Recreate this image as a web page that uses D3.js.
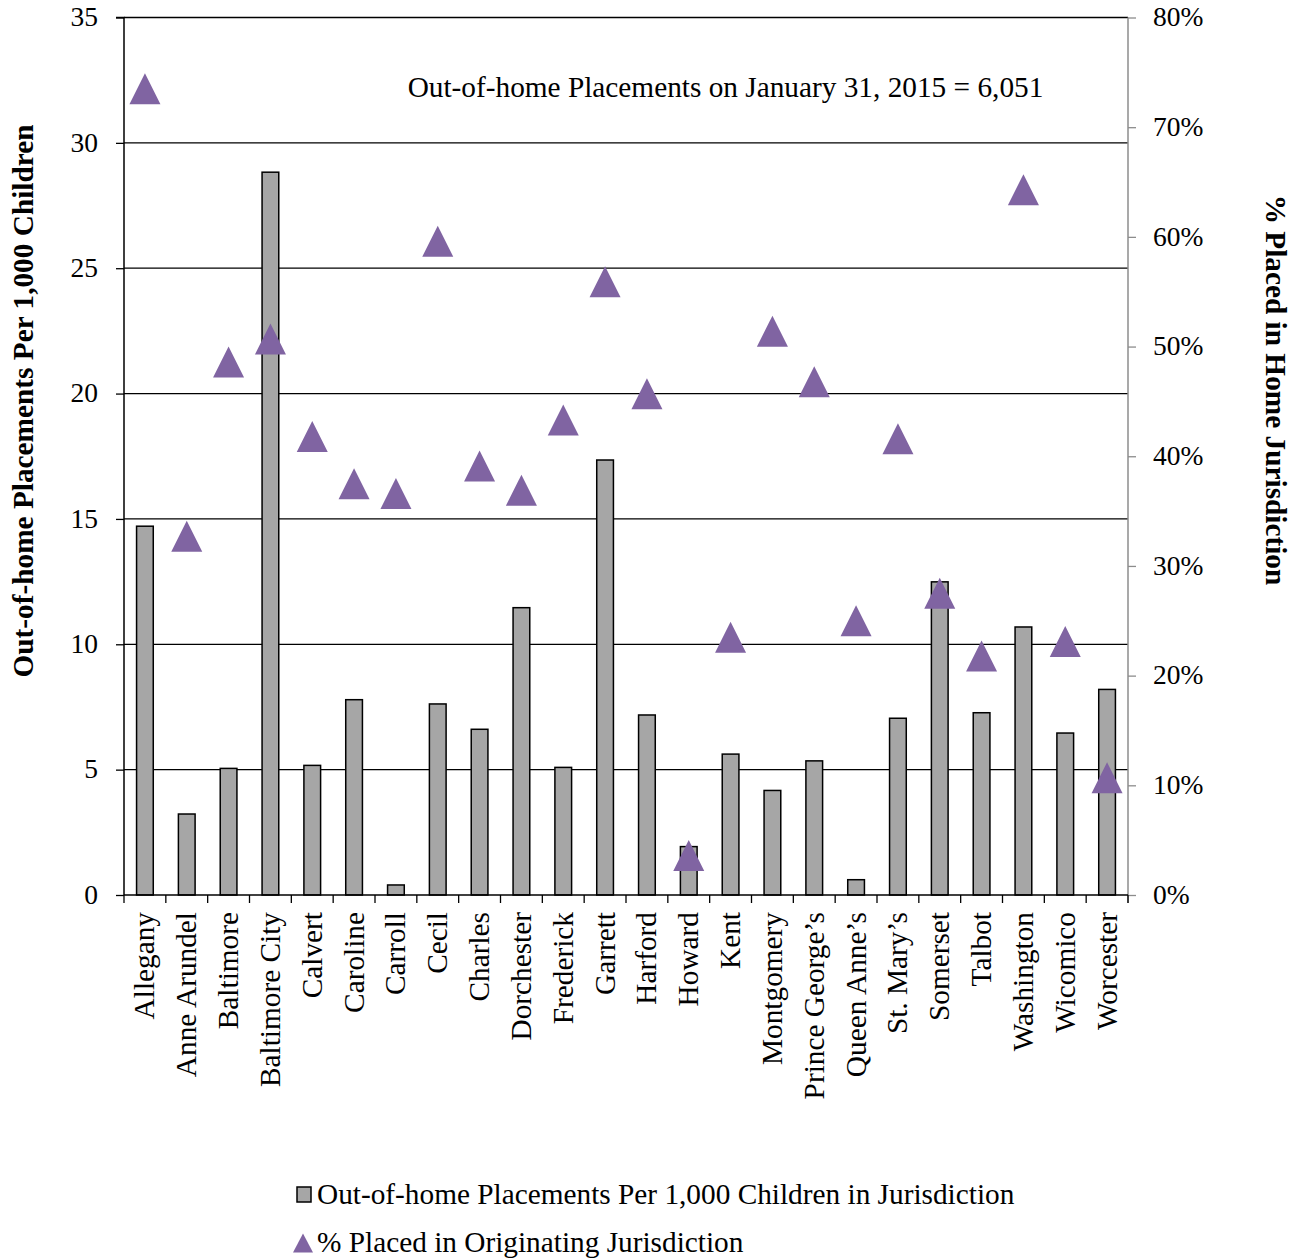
<!DOCTYPE html>
<html>
<head>
<meta charset="utf-8">
<script src="https://cdn.jsdelivr.net/npm/d3@7"></script>
<style>
  html, body { margin: 0; padding: 0; background: #fff; }
  text { font-family: "Liberation Serif", "Times New Roman", serif; fill: #000; }
</style>
</head>
<body>
<svg id="chart" width="1302" height="1260"></svg>
<script>
const categories = ["Allegany", "Anne Arundel", "Baltimore", "Baltimore City", "Calvert", "Caroline",
  "Carroll", "Cecil", "Charles", "Dorchester", "Frederick", "Garrett", "Harford", "Howard", "Kent",
  "Montgomery", "Prince George\u2019s", "Queen Anne\u2019s", "St. Mary\u2019s", "Somerset", "Talbot",
  "Washington", "Wicomico", "Worcester"];
const placementsPer1000 = [14.71, 3.23, 5.05, 28.83, 5.17, 7.79, 0.40, 7.62, 6.61, 11.46, 5.09, 17.35,
  7.18, 1.93, 5.62, 4.17, 5.35, 0.61, 7.05, 12.49, 7.27, 10.69, 6.46, 8.20];
const pctInHome = [73.5, 32.7, 48.6, 50.7, 41.8, 37.5, 36.6, 59.6, 39.1, 36.9, 43.3, 55.9, 45.7, 3.6,
  23.5, 51.4, 46.8, 25.0, 41.6, 27.5, 21.8, 64.3, 23.1, 10.7];
const leftTicks = [0, 5, 10, 15, 20, 25, 30, 35];
const rightTicks = [0, 10, 20, 30, 40, 50, 60, 70, 80];
const seriesNames = ["Out-of-home Placements Per 1,000 Children in Jurisdiction", "% Placed in Originating Jurisdiction"];
const annotation = "Out-of-home Placements on January 31, 2015 = 6,051";
const leftTitle = "Out-of-home Placements Per 1,000 Children";
const rightTitle = "% Placed in Home Jurisdiction";

const svg = d3.select("#chart");
const L = 124, R = 1128, T = 17.5, B = 895;
const barColor = "#a6a6a6", triColor = "#8064a2";
const fs = 29.3, tfs = 27.5;

const xOuter = d3.scaleBand().domain(categories).range([L, R]);
const y = d3.scaleLinear().domain([0, 35]).range([B, T]);
const y2 = d3.scaleLinear().domain([0, 80]).range([B, T]);

// gridlines
svg.append("g").selectAll("line").data(leftTicks.filter(d => d > 0)).join("line")
  .attr("x1", L).attr("x2", R).attr("y1", d => y(d)).attr("y2", d => y(d))
  .attr("stroke", "#000").attr("stroke-width", 1.3);

// bars
const bw = 16.7;
svg.append("g").selectAll("rect").data(categories).join("rect")
  .attr("x", d => xOuter(d) + xOuter.bandwidth() / 2 - bw / 2)
  .attr("width", bw)
  .attr("y", (d, i) => y(placementsPer1000[i]))
  .attr("height", (d, i) => B - y(placementsPer1000[i]))
  .attr("fill", barColor).attr("stroke", "#000").attr("stroke-width", 1.5);

// left axis
const gl = svg.append("g").attr("transform", `translate(${L},0)`)
  .call(d3.axisLeft(y).tickValues(leftTicks).tickSize(8).tickPadding(18).tickFormat(d3.format("d")));
gl.select(".domain").attr("stroke", "#000").attr("stroke-width", 1.5).attr("d", `M-8,${T}H0V${B}`);
gl.selectAll(".tick line").attr("stroke", "#000").attr("stroke-width", 1.3);
gl.selectAll(".tick text").attr("font-size", tfs).attr("font-family", "Liberation Serif").attr("fill", "#000").attr("dy", "0.3em");

// right axis
const gr = svg.append("g").attr("transform", `translate(${R},0)`)
  .call(d3.axisRight(y2).tickValues(rightTicks).tickSize(8).tickPadding(17).tickFormat(d => d + "%"));
gr.select(".domain").attr("stroke", "#8c8c8c").attr("stroke-width", 1.5).attr("d", `M0,${T}V${B + 8}`);
gr.selectAll(".tick line").attr("stroke", "#8c8c8c").attr("stroke-width", 1.3);
gr.selectAll(".tick text").attr("font-size", tfs).attr("font-family", "Liberation Serif").attr("fill", "#000").attr("dy", "0.3em");

// bottom axis baseline and boundary ticks
const gb = svg.append("g");
gb.append("line").attr("x1", L).attr("x2", R).attr("y1", B).attr("y2", B).attr("stroke", "#000").attr("stroke-width", 1.5);
gb.selectAll("line.tk").data(categories.concat(["_end"])).join("line").attr("class", "tk")
  .attr("x1", (d, i) => i < categories.length ? xOuter(d) : R)
  .attr("x2", (d, i) => i < categories.length ? xOuter(d) : R)
  .attr("y1", B).attr("y2", B + 8).attr("stroke", "#000").attr("stroke-width", 1.3);
gb.selectAll("text").data(categories).join("text")
  .attr("transform", d => `translate(${xOuter(d) + xOuter.bandwidth() / 2 + 9.5},912) rotate(-90)`)
  .attr("text-anchor", "end").attr("font-size", fs).text(d => d);

// triangles
function tri(cx, cy, w, h) {
  const p = d3.path();
  p.moveTo(cx, cy - h / 2); p.lineTo(cx + w / 2, cy + h / 2); p.lineTo(cx - w / 2, cy + h / 2); p.closePath();
  return p.toString();
}
svg.append("g").selectAll("path").data(categories).join("path")
  .attr("d", (d, i) => tri(xOuter(d) + xOuter.bandwidth() / 2, y2(pctInHome[i]), 31, 31))
  .attr("fill", triColor);

// annotation
svg.append("text").attr("x", 725.5).attr("y", 97).attr("text-anchor", "middle").attr("font-size", fs).text(annotation);

// axis titles
svg.append("text").attr("transform", "translate(33,401) rotate(-90)").attr("text-anchor", "middle")
  .attr("font-size", fs).attr("font-weight", "bold").text(leftTitle);
svg.append("text").attr("transform", "translate(1266,390) rotate(90)").attr("text-anchor", "middle")
  .attr("font-size", fs).attr("font-weight", "bold").text(rightTitle);

// legend
const lg = svg.append("g");
lg.append("rect").attr("x", 297).attr("y", 1187).attr("width", 14).attr("height", 15)
  .attr("fill", barColor).attr("stroke", "#000").attr("stroke-width", 1.5);
lg.append("text").attr("x", 317).attr("y", 1204).attr("font-size", fs).text(seriesNames[0]);
lg.append("path").attr("d", tri(303, 1243, 20, 19)).attr("fill", triColor);
lg.append("text").attr("x", 317).attr("y", 1252).attr("font-size", fs).text(seriesNames[1]);
</script>
</body>
</html>
